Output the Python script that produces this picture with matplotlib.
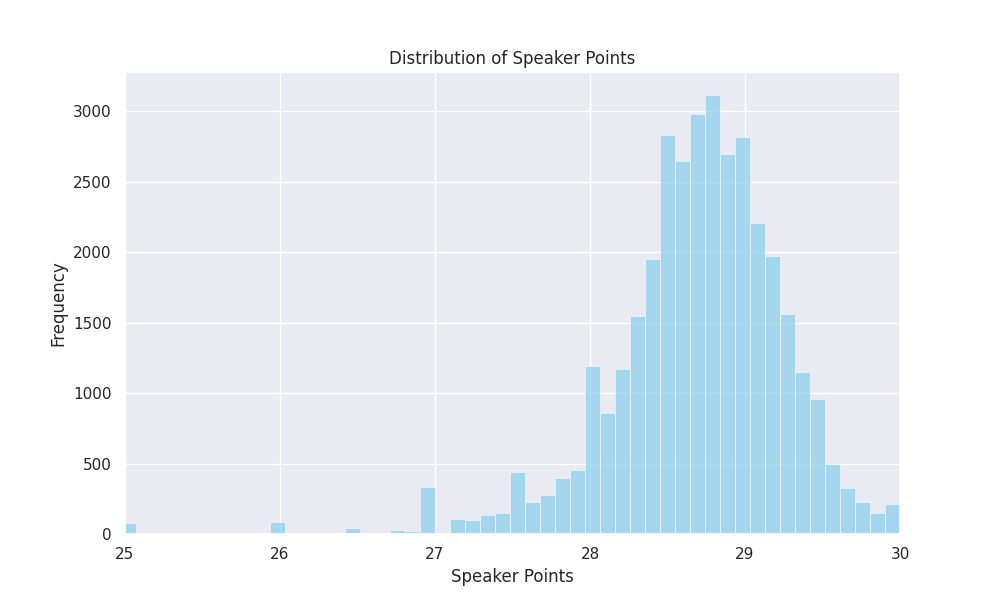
import matplotlib
matplotlib.use('Agg')
import matplotlib.pyplot as plt
import seaborn as sns
import numpy as np

sns.set_theme(style='darkgrid')

# bin width and counts (rightmost bin ends at 30)
bin_width = 0.0967
counts = [75, 3, 0, 0, 0, 8, 0, 0, 0, 0,
          85, 0, 0, 0, 0, 45, 0, 8, 25, 18,
          335, 0, 110, 100, 135, 150, 440, 230, 280, 400,
          455, 1195, 860, 1170, 1550, 1950, 2830, 2650, 2980, 3120,
          2700, 2820, 2210, 1975, 1560, 1150, 960, 495, 330, 225,
          150, 215]

n = len(counts)
left_edges = 30 - bin_width * (n - np.arange(n))

fig, ax = plt.subplots(figsize=(10, 6), dpi=100)
ax.bar(left_edges, counts, width=bin_width, align='edge',
       color='skyblue', alpha=0.7, edgecolor='white', linewidth=0.5)
ax.set_xlim(25, 30)
ax.set_ylim(0, 3280)
ax.set_title('Distribution of Speaker Points')
ax.set_xlabel('Speaker Points')
ax.set_ylabel('Frequency')
plt.savefig('out.png')
